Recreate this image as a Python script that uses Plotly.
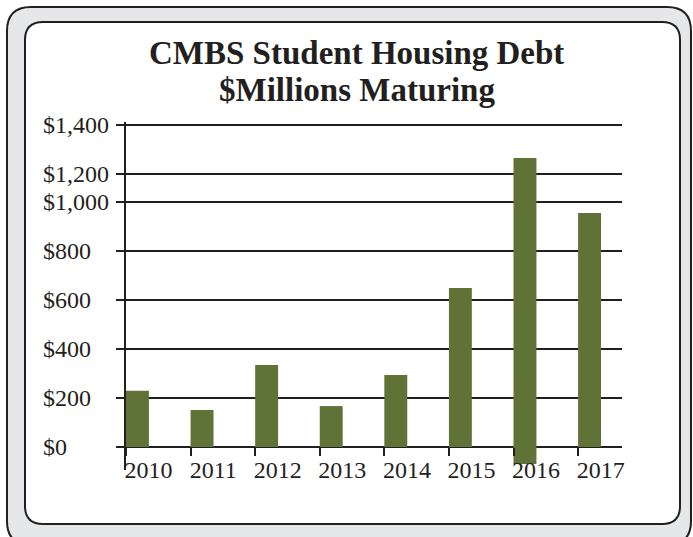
import plotly.graph_objects as go

# ---- data ----
years = ["2010", "2011", "2012", "2013", "2014", "2015", "2016", "2017"]
maturing = [230, 151, 335, 167, 294, 649, 1250, 955]   # bar lengths ($M)
bar_base = [0, 0, 0, 0, 0, 0, -70, 0]                   # 2016 bar drawn dropping below zero
tick_vals = [0, 200, 400, 600, 800, 1000, 1115, 1315]
tick_text = ["$0", "$200", "$400", "$600", "$800", "$1,000", "$1,200", "$1,400"]
title_lines = ["CMBS Student Housing Debt", "$Millions Maturing"]

W, H = 693, 537
ML, MR, MT, MB = 126, 71, 122, 67
PW, PH = W - ML - MR, H - MT - MB
Y0, Y1 = -94, 1327
X0, X1 = 0, 7.68
DARK = "#231f20"
GREEN = "#607337"
FONT = "Liberation Serif"


def px(x):
    return (x - ML) / PW


def py(y):
    return (H - MB - y) / PH


def rrect(x0, y0, x1, y1, r):
    pts = [
        ("M", [(x0 + r, y0)]), ("L", [(x1 - r, y0)]), ("Q", [(x1, y0), (x1, y0 + r)]),
        ("L", [(x1, y1 - r)]), ("Q", [(x1, y1), (x1 - r, y1)]), ("L", [(x0 + r, y1)]),
        ("Q", [(x0, y1), (x0, y1 - r)]), ("L", [(x0, y0 + r)]), ("Q", [(x0, y0), (x0 + r, y0)]),
    ]
    s = ""
    for cmd, ps in pts:
        s += cmd + " " + " ".join(f"{px(a):.5f},{py(b):.5f}" for a, b in ps) + " "
    return s + "Z"


xs = list(range(len(years)))

fig = go.Figure()
fig.add_trace(go.Bar(
    x=xs, y=maturing, base=bar_base, width=0.355, offset=0,
    marker=dict(color=GREEN, line=dict(width=0)),
    hoverinfo="skip",
))

shapes = [
    dict(type="path", xref="paper", yref="paper", layer="below",
         path=rrect(7, 7, 691, 545, 24), fillcolor="#e6e7e8",
         line=dict(color=DARK, width=2)),
    dict(type="path", xref="paper", yref="paper", layer="below",
         path=rrect(25, 22, 680, 524, 18), fillcolor="white",
         line=dict(color=DARK, width=2)),
]

annotations = []
for v, t in zip(tick_vals, tick_text):
    annotations.append(dict(
        x=px(41), xref="paper", y=v, yref="y", text=t, showarrow=False,
        xanchor="left", yanchor="middle",
        font=dict(family=FONT, size=24, color=DARK)))
for i, (line, cy) in enumerate(zip(title_lines, [53, 90])):
    annotations.append(dict(
        x=px(356.5), xref="paper", y=py(cy), yref="paper", text=f"<b>{line}</b>",
        showarrow=False, xanchor="center", yanchor="middle",
        font=dict(family=FONT, size=33, color=DARK)))

fig.update_layout(
    width=W, height=H,
    margin=dict(l=ML, r=MR, t=MT, b=MB, pad=0),
    paper_bgcolor="white", plot_bgcolor="rgba(0,0,0,0)",
    showlegend=False,
    shapes=shapes, annotations=annotations,
    xaxis=dict(
        range=[X0, X1], showgrid=False, zeroline=False, showline=False,
        anchor="free", position=(0 - Y0) / (Y1 - Y0),
        tickmode="array", tickvals=[i + 0.35 for i in xs], ticktext=years,
        ticks="", ticklabelstandoff=6,
        tickfont=dict(family=FONT, size=24, color=DARK),
        minor=dict(tickmode="array", tickvals=xs, ticks="outside", ticklen=8,
                   tickwidth=2, tickcolor=DARK, showgrid=False),
    ),
    yaxis=dict(
        range=[Y0, Y1], showline=True, linecolor=DARK, linewidth=2,
        zeroline=False, showgrid=True, gridcolor=DARK, gridwidth=2,
        tickmode="array", tickvals=tick_vals, ticktext=tick_text,
        showticklabels=False,
        ticks="outside", ticklen=8, tickwidth=2, tickcolor=DARK,
    ),
)

fig.write_html("out.html")
